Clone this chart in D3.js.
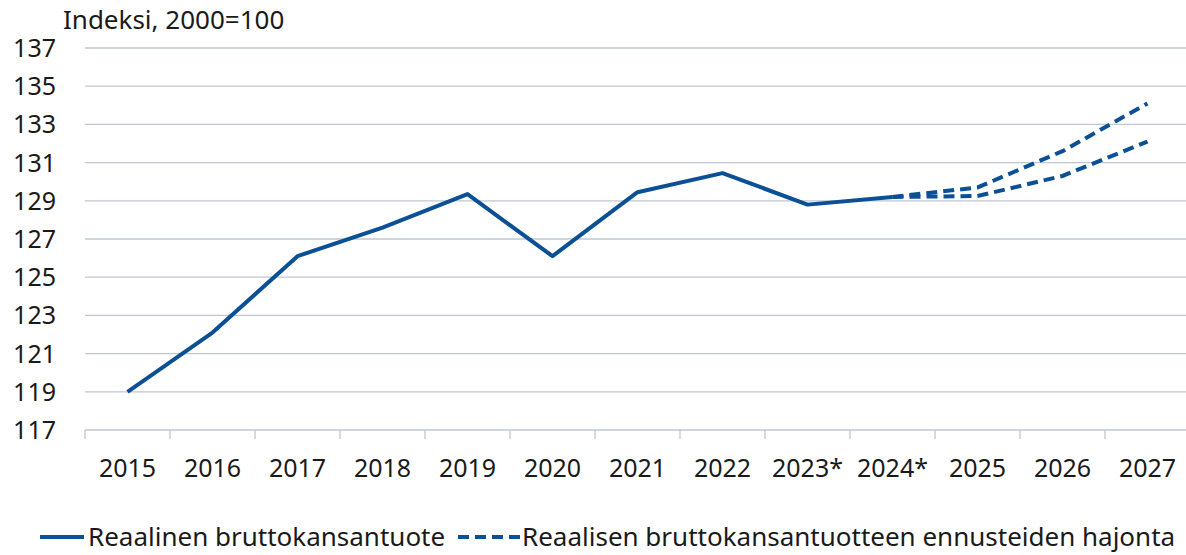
<!DOCTYPE html>
<html><head><meta charset="utf-8">
<script src="https://cdn.jsdelivr.net/npm/d3@7"></script>
<style>body{margin:0;background:#fff}svg{display:block}text{font-family:"Noto Sans",sans-serif;fill:#1a1a1a}</style>
</head><body><svg id="c" width="1186" height="555"></svg>
<script>
const categories = ["2015","2016","2017","2018","2019","2020","2021","2022","2023*","2024*","2025","2026","2027"];
const actual = [119.0,122.1,126.1,127.6,129.35,126.1,129.45,130.45,128.8,129.2];
const upperCats = ["2024*","2025","2026","2027"];
const upper = [129.2,129.7,131.6,134.1];
const lowerCats = ["2024*","2025","2026","2027"];
const lower = [129.2,129.25,130.3,132.1];
const yTicks = [117,119,121,123,125,127,129,131,133,135,137];

const svg = d3.select("#c");
const color = "#0b5095", grid = "#bfc7d2";
const fs = 25, fsL = 26;
const x = d3.scaleBand().domain(categories).range([85,1190]);
const y = d3.scaleLinear().domain([117,137]).range([430,48]);
const xc = c => x(c) + x.bandwidth()/2;

svg.append("g").selectAll("line").data(yTicks.slice(1)).join("line")
  .attr("x1",85).attr("x2",1186).attr("y1",d=>y(d)).attr("y2",d=>y(d))
  .attr("stroke",grid).attr("stroke-width",1.3);

svg.append("line").attr("x1",85).attr("x2",1186).attr("y1",430).attr("y2",430).attr("stroke",grid).attr("stroke-width",1.3);
const bounds = categories.map(c=>x(c)).concat([x.range()[1]]);
svg.append("g").selectAll("line").data(bounds).join("line")
  .attr("x1",d=>d).attr("x2",d=>d).attr("y1",430).attr("y2",439).attr("stroke",grid).attr("stroke-width",1.3);
svg.append("g").selectAll("text").data(categories).join("text")
  .attr("x",d=>xc(d)).attr("y",477).attr("text-anchor","middle").attr("font-size",fs).text(d=>d);

svg.append("g").selectAll("text").data(yTicks).join("text")
  .attr("x",56).attr("y",d=>y(d)+9).attr("text-anchor","end").attr("font-size",fs).text(d=>d);

svg.append("text").attr("x",63).attr("y",29).attr("font-size",fsL).text("Indeksi, 2000=100");

const line = d3.line().x(d=>xc(d[0])).y(d=>y(d[1]));
const dash = "11,6";
[[upperCats,upper],[lowerCats,lower]].forEach(([c,v])=>{
  svg.append("path").datum(c.map((k,i)=>[k,v[i]])).attr("d",line)
    .attr("fill","none").attr("stroke",color).attr("stroke-width",4).attr("stroke-dasharray",dash);
});
svg.append("path").datum(actual.map((v,i)=>[categories[i],v])).attr("d",line)
  .attr("fill","none").attr("stroke",color).attr("stroke-width",4).attr("stroke-linejoin","round");

const lg = svg.append("g");
lg.append("line").attr("x1",40).attr("x2",84).attr("y1",537).attr("y2",537).attr("stroke",color).attr("stroke-width",4);
lg.append("text").attr("x",88).attr("y",546).attr("font-size",fsL).text("Reaalinen bruttokansantuote");
lg.append("line").attr("x1",458).attr("x2",520).attr("y1",537).attr("y2",537).attr("stroke",color).attr("stroke-width",4).attr("stroke-dasharray",dash);
lg.append("text").attr("x",522).attr("y",546).attr("font-size",fsL).text("Reaalisen bruttokansantuotteen ennusteiden hajonta");
</script></body></html>
